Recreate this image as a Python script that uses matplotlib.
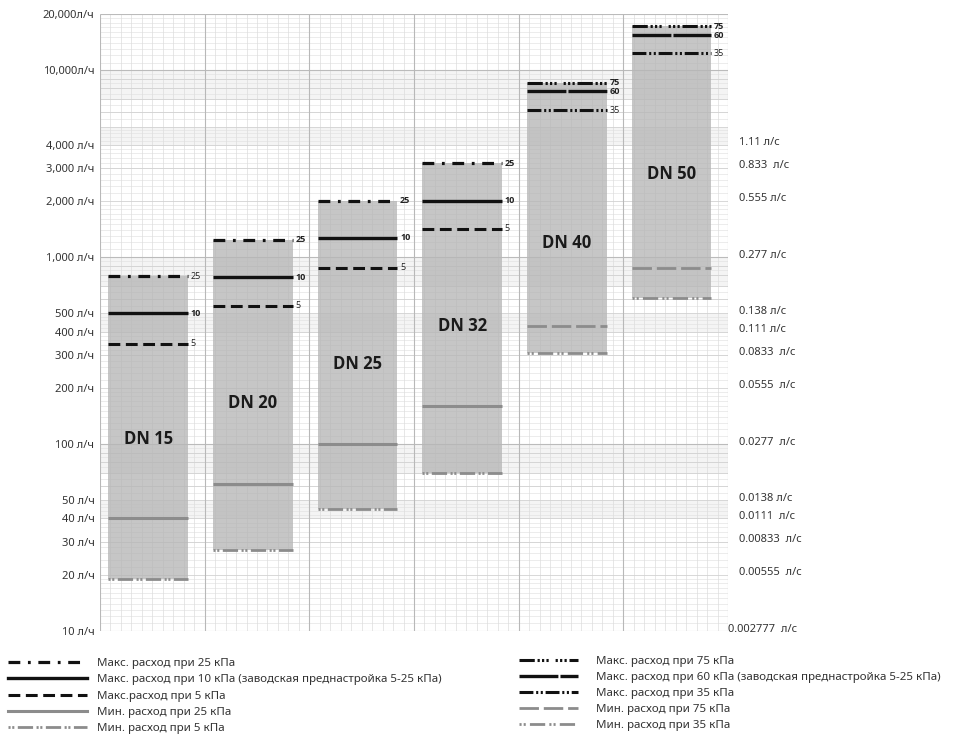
import matplotlib
matplotlib.use("Agg")
import matplotlib.pyplot as plt
import numpy as np
from matplotlib.lines import Line2D
from matplotlib.transforms import blended_transform_factory, offset_copy

plt.rcParams['font.family'] = ['Noto Sans', 'DejaVu Sans']
plt.rcParams['lines.scale_dashes'] = False

# ---------------- data ----------------
dn_labels = ['DN 15', 'DN 20', 'DN 25', 'DN 32', 'DN 40', 'DN 50']
dn_label_y = [107, 165, 267, 428, 1190, 2800]

# DN15..DN32 (low-pressure valves)
max25 = [790, 1240, 2000, 3180]
max10 = [500, 780, 1270, 2000]
max5 = [345, 550, 880, 1420]
min25 = [40, 61, 100, 160]
min5 = [19, 27, 45, 70]

# DN40..DN50 (high-pressure valves)
max75 = [8600, 17200]
max60 = [7700, 15400]
max35 = [6100, 12300]
min75 = [430, 880]
min35 = [308, 605]

left_ticks = [10, 20, 30, 40, 50, 100, 200, 300, 400, 500, 1000, 2000, 3000, 4000, 10000, 20000]
left_labels = ['10 л/ч', '20 л/ч', '30 л/ч', '40 л/ч', '50 л/ч', '100 л/ч', '200 л/ч', '300 л/ч',
               '400 л/ч', '500 л/ч', '1,000 л/ч', '2,000 л/ч', '3,000 л/ч', '4,000 л/ч',
               '10,000л/ч', '20,000л/ч']

right_vals = [4000, 3000, 2000, 1000, 500, 400, 300, 200, 100, 50, 40, 30, 20]
right_labels = ['1.11 л/с', '0.833  л/с', '0.555 л/с', '0.277 л/с', '0.138 л/с', '0.111 л/с',
                '0.0833  л/с', '0.0555  л/с', '0.0277  л/с', '0.0138 л/с', '0.0111  л/с',
                '0.00833  л/с', '0.00555  л/с']
bottom_right_val = 10
bottom_right_label = '0.002777  л/с'

# ---------------- styles ----------------
BLK = '#111111'
GRY = '#8c8c8c'
styles = {
    'max25': dict(color=BLK, lw=2.3, ls=(0, (8.5, 5.5, 2, 5.5))),
    'max10': dict(color=BLK, lw=2.4, ls='-'),
    'max5': dict(color=BLK, lw=2.2, ls=(0, (8.5, 4))),
    'min25': dict(color=GRY, lw=2.2, ls='-'),
    'min5': dict(color=GRY, lw=2.0, ls=(0, (1.5, 1.2, 1.5, 2.5, 11, 2.5))),
    'max75': dict(color=BLK, lw=2.2, ls=(0, (11, 2, 1.6, 1.6, 1.6, 1.6, 1.6, 5, 1.6, 1.6, 1.6, 1.6, 1.6, 2))),
    'max60': dict(color=BLK, lw=2.4, ls=(0, (28, 1.5))),
    'max35': dict(color=BLK, lw=2.2, ls=(0, (10, 2, 1.5, 1.8, 1.5, 2))),
    'min75': dict(color=GRY, lw=2.0, ls=(0, (14, 3.5))),
    'min35': dict(color=GRY, lw=2.0, ls=(0, (1.5, 1.5, 1.5, 3, 11, 3))),
}

W, H = 957, 738
fig = plt.figure(figsize=(W / 100, H / 100), dpi=100)
ax = fig.add_axes([100 / W, (H - 631) / H, 628 / W, 617 / H])
ax.set_yscale('log')
ax.set_ylim(10, 20000)
ax.set_xlim(0, 6)

# background bands (graph paper)
for dec in [10, 100, 1000]:
    ax.axhspan(0.7 * dec * 10, dec * 10, color='#f4f4f4', lw=0, zorder=0)
    ax.axhspan(0.4 * dec * 10, 0.5 * dec * 10, color='#f4f4f4', lw=0, zorder=0)

# fine horizontal grid
fine = []
for dec in [10, 100, 1000, 10000]:
    fine += list(dec * np.arange(1.1, 2.0, 0.1))
    fine += list(dec * np.arange(2.2, 5.0, 0.2))
    fine += list(dec * np.arange(5.5, 10.0, 0.5))
fine = [v for v in fine if 10 < v < 20000]
ax.hlines(fine, 0, 6, color='#e4e4e4', lw=0.5, zorder=0.5)
mid = [m * d for d in [10, 100, 1000, 10000] for m in range(2, 10) if m * d < 20000]
ax.hlines(mid, 0, 6, color='#d2d2d2', lw=0.6, zorder=0.6)
ax.hlines([10, 100, 1000, 10000, 20000], 0, 6, color='#bbbbbb', lw=0.8, zorder=0.7)
ax.vlines(np.arange(0, 6.01, 0.1), 10, 20000, color='#dddddd', lw=0.5, zorder=0.5)
ax.vlines(np.arange(0, 7), 10, 20000, color='#b8b8b8', lw=0.8, zorder=0.7)

x0, x1 = 0.08, 0.84

def draw_line(i, val, key, lab, bold):
    st = styles[key]
    ax.hlines(val, i + x0, i + x1, colors=st['color'], linewidth=st['lw'],
              linestyles=[st['ls']], zorder=3)
    ax.annotate(lab, (i + x1, val), xytext=(2, 0), textcoords='offset points',
                fontsize=6.5, va='center', ha='left', color='#222222',
                family=['Open Sans', 'DejaVu Sans'],
                fontweight='bold' if bold else 'normal', zorder=4)

# low-pressure valves
for i in range(4):
    top = max25[i]
    bot = min5[i]
    ax.bar(i + x0, top - bot, bottom=bot, width=x1 - x0, align='edge',
           color='#b6b6b6', alpha=0.78, lw=0, zorder=2)
    draw_line(i, max25[i], 'max25', '25', i >= 1)
    draw_line(i, max10[i], 'max10', '10', True)
    draw_line(i, max5[i], 'max5', '5', False)
    for key, v in (('min25', min25[i]), ('min5', min5[i])):
        st = styles[key]
        ax.hlines(v, i + x0, i + x1, colors=st['color'], linewidth=st['lw'],
                  linestyles=[st['ls']], zorder=3)

# high-pressure valves
for j in range(2):
    i = 4 + j
    top = max75[j]
    bot = min35[j]
    ax.bar(i + x0, top - bot, bottom=bot, width=x1 - x0, align='edge',
           color='#b6b6b6', alpha=0.78, lw=0, zorder=2)
    draw_line(i, max75[j], 'max75', '75', True)
    draw_line(i, max60[j], 'max60', '60', True)
    draw_line(i, max35[j], 'max35', '35', False)
    for key, v in (('min75', min75[j]), ('min35', min35[j])):
        st = styles[key]
        ax.hlines(v, i + x0, i + x1, colors=st['color'], linewidth=st['lw'],
                  linestyles=[st['ls']], zorder=3)

for i, (lab, yv) in enumerate(zip(dn_labels, dn_label_y)):
    ax.text(i + 0.46, yv, lab, ha='center', va='center', fontsize=12,
            fontweight='bold', family=['Open Sans', 'DejaVu Sans'],
            color='#1a1a1a', zorder=5)

# axes
ax.set_xticks([])
ax.set_yticks(left_ticks)
ax.set_yticklabels(left_labels)
ax.yaxis.set_minor_locator(matplotlib.ticker.NullLocator())
ax.tick_params(axis='y', length=0, pad=4, labelsize=8, labelcolor='#333333')
for s in ax.spines.values():
    s.set_visible(False)

tr = blended_transform_factory(ax.transAxes, ax.transData)
tr_up = offset_copy(tr, fig=fig, x=0, y=2, units='dots')
for v, lab in zip(right_vals, right_labels):
    ax.text(1.0175, v, lab, transform=tr_up, ha='left', va='center', fontsize=8,
            color='#333333')
ax.text(1.0, bottom_right_val, bottom_right_label, transform=tr_up, ha='left',
        va='center', fontsize=8, color='#333333')

# legends
def h(key):
    s = styles[key]
    return Line2D([], [], color=s['color'], lw=s['lw'], ls=s['ls'], dash_capstyle='butt')

LFS = 8.3
leg1 = fig.legend([h('max25'), h('max10'), h('max5'), h('min25'), h('min5')],
                  ['Макс. расход при 25 кПа',
                   'Макс. расход при 10 кПа (заводская преднастройка 5-25 кПа)',
                   'Макс.расход при 5 кПа',
                   'Мин. расход при 25 кПа',
                   'Мин. расход при 5 кПа'],
                  loc='upper left', bbox_to_anchor=(8 / W, 1 - 658 / H), frameon=False,
                  fontsize=LFS, handlelength=57 / LFS, handletextpad=0.85, labelspacing=0.45,
                  borderpad=0, borderaxespad=0)
leg2 = fig.legend([h('max75'), h('max60'), h('max35'), h('min75'), h('min35')],
                  ['Макс. расход при 75 кПа',
                   'Макс. расход при 60 кПа (заводская преднастройка 5-25 кПа)',
                   'Макс. расход при 35 кПа',
                   'Мин. расход при 75 кПа',
                   'Мин. расход при 35 кПа'],
                  loc='upper left', bbox_to_anchor=(519 / W, 1 - 656 / H), frameon=False,
                  fontsize=LFS, handlelength=42.5 / LFS, handletextpad=1.6, labelspacing=0.42,
                  borderpad=0, borderaxespad=0)
for leg in (leg1, leg2):
    for t in leg.get_texts():
        t.set_color('#333333')

fig.savefig('out.png', dpi=100, facecolor='white')
